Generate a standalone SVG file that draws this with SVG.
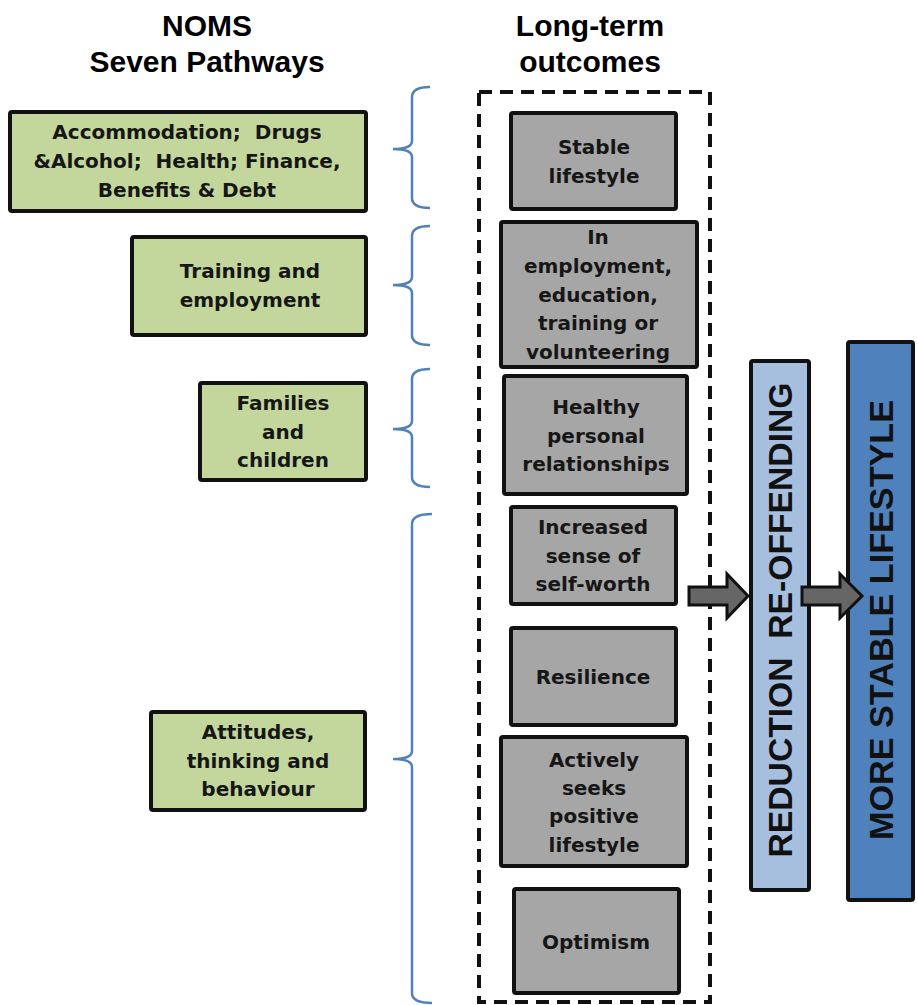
<svg xmlns="http://www.w3.org/2000/svg" width="918" height="1005" viewBox="0 0 918 1005">
<defs>
<style>
.title{font-family:"Liberation Sans",Arial,sans-serif;font-weight:bold;font-size:30px;fill:#000;text-anchor:middle}
.t{font-family:"DejaVu Sans",Verdana,sans-serif;font-weight:bold;font-size:20px;fill:#161616;text-anchor:middle}
.green{fill:#c3d69b;stroke:#111;stroke-width:4}
.gray{fill:#a6a6a6;stroke:#111;stroke-width:4}
.brace{fill:none;stroke:#4f81bd;stroke-width:2.5}
.arrow{fill:#666;stroke:#111;stroke-width:3;stroke-linejoin:miter}
.big{font-family:"Liberation Sans",Arial,sans-serif;font-weight:bold;font-size:33px;fill:#111;text-anchor:middle}
</style>
</defs>
<rect width="918" height="1005" fill="#fff"/>

<g id="titles">
<text class="title" x="207" y="36">NOMS</text>
<text class="title" x="207" y="72">Seven Pathways</text>
<text class="title" x="590" y="36">Long-term</text>
<text class="title" x="590" y="72">outcomes</text>
</g>

<g id="outcome-frame">
<rect x="479" y="92" width="231" height="910" fill="none" stroke="#111" stroke-width="4" stroke-dasharray="13 8"/>
</g>

<g id="p1">
<rect class="green" x="10" y="112" width="356" height="99" rx="2"/>
<text class="t" x="187" y="139">Accommodation;&#160; Drugs</text>
<text class="t" x="187" y="168">&amp;Alcohol;&#160; Health; Finance,</text>
<text class="t" x="187" y="197">Benefits &amp; Debt</text>
</g>
<g id="p2">
<rect class="green" x="132" y="237" width="234" height="98" rx="2"/>
<text class="t" x="250" y="278">Training and</text>
<text class="t" x="250" y="307">employment</text>
</g>
<g id="p3">
<rect class="green" x="200" y="383" width="166" height="97" rx="2"/>
<text class="t" x="283" y="410">Families</text>
<text class="t" x="283" y="439">and</text>
<text class="t" x="283" y="467">children</text>
</g>
<g id="p4">
<rect class="green" x="151" y="712" width="214" height="98" rx="2"/>
<text class="t" x="258" y="739">Attitudes,</text>
<text class="t" x="258" y="768">thinking and</text>
<text class="t" x="258" y="796">behaviour</text>
</g>

<g id="o1">
<rect class="gray" x="511" y="113" width="165" height="96" rx="2"/>
<text class="t" x="594" y="154">Stable</text>
<text class="t" x="594" y="183">lifestyle</text>
</g>
<g id="o2">
<rect class="gray" x="501" y="222" width="196" height="145" rx="2"/>
<text class="t" x="598" y="244">In</text>
<text class="t" x="598" y="273">employment,</text>
<text class="t" x="598" y="302">education,</text>
<text class="t" x="598" y="330">training or</text>
<text class="t" x="598" y="359">volunteering</text>
</g>
<g id="o3">
<rect class="gray" x="504" y="376" width="183" height="118" rx="2"/>
<text class="t" x="596" y="414">Healthy</text>
<text class="t" x="596" y="443">personal</text>
<text class="t" x="596" y="471">relationships</text>
</g>
<g id="o4">
<rect class="gray" x="511" y="507" width="165" height="97" rx="2"/>
<text class="t" x="593" y="534">Increased</text>
<text class="t" x="593" y="563">sense of</text>
<text class="t" x="593" y="591">self-worth</text>
</g>
<g id="o5">
<rect class="gray" x="511" y="628" width="165" height="97" rx="2"/>
<text class="t" x="593" y="684">Resilience</text>
</g>
<g id="o6">
<rect class="gray" x="501" y="737" width="186" height="129" rx="2"/>
<text class="t" x="594" y="767">Actively</text>
<text class="t" x="594" y="795">seeks</text>
<text class="t" x="594" y="823">positive</text>
<text class="t" x="594" y="852">lifestyle</text>
</g>
<g id="o7">
<rect class="gray" x="514" y="889" width="165" height="104" rx="2"/>
<text class="t" x="596" y="949">Optimism</text>
</g>

<g id="reduction">
<rect x="751" y="361" width="58" height="529" fill="#a7bfde" stroke="#111" stroke-width="4" rx="2"/>
<text class="big" transform="translate(792,620) rotate(-90)" x="0" y="0" textLength="475" lengthAdjust="spacingAndGlyphs">REDUCTION&#160; RE-OFFENDING</text>
</g>
<g id="stable">
<rect x="848" y="342" width="65" height="558" fill="#4f81bd" stroke="#111" stroke-width="4" rx="2"/>
<text class="big" transform="translate(893,620) rotate(-90)" x="0" y="0" textLength="440" lengthAdjust="spacingAndGlyphs">MORE STABLE LIFESTYLE</text>
</g>

<g id="connectors">
<path class="brace" d="M430 87 Q412 87 412 97 L412 141 Q412 149 393 149 Q412 149 412 157 L412 198 Q412 208 430 208"/>
<path class="brace" d="M430 226 Q412 226 412 236 L412 277 Q412 285 393 285 Q412 285 412 293 L412 335 Q412 345 430 345"/>
<path class="brace" d="M430 369 Q412 369 412 379 L412 421 Q412 429 393 429 Q412 429 412 437 L412 477 Q412 487 430 487"/>
<path class="brace" d="M432 514 Q412 514 412 524 L412 751 Q412 759 393 759 Q412 759 412 767 L412 993 Q412 1003 432 1003"/>
<path class="arrow" d="M689 587 L727 587 L727 574 L748 596 L727 618 L727 605 L689 605 Z"/>
<path class="arrow" d="M802 587 L840 587 L840 574 L862 596 L840 618 L840 605 L802 605 Z"/>
</g>
</svg>
